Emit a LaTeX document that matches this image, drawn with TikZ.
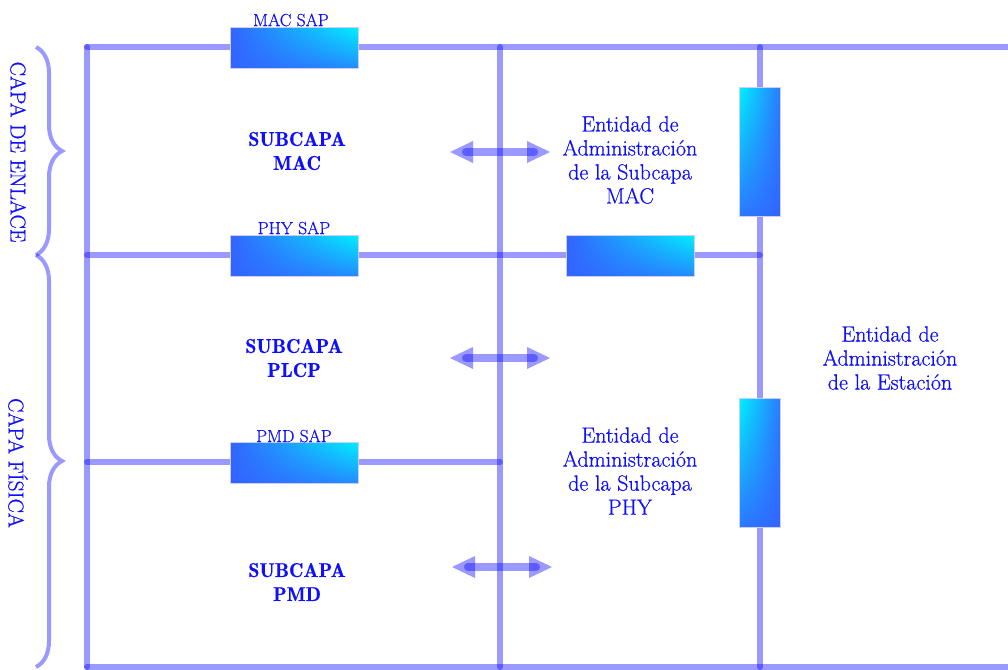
\documentclass[tikz,border=0pt]{standalone}
\usepackage{fontspec}
\newfontfamily\thk{Latin Modern Roman}[FakeBold=0.7]
\newfontfamily\dem{Latin Modern Roman Demi}[FakeBold=0.4]
\usetikzlibrary{calc,decorations.pathreplacing,shadings}
\definecolor{txt}{RGB}{15,15,255}
\definecolor{cy}{RGB}{0,240,255}
\definecolor{bl}{RGB}{50,100,255}
\definecolor{mid}{RGB}{35,140,255}
\tikzset{
  wire/.style={draw=blue,draw opacity=0.4,line width=6pt,line cap=round},
  shaft/.style={draw=blue,draw opacity=0.4,line width=8pt,line cap=round},
  headf/.style={fill=blue,fill opacity=0.4},
  hbox/.style={draw=white!80!blue,line width=0.6pt,minimum width=128pt,minimum height=41pt,inner sep=0pt,
     upper right=cy,upper left=bl,lower left=bl,lower right=mid},
  vbox/.style={draw=white!80!blue,line width=0.6pt,minimum width=41pt,minimum height=129pt,inner sep=0pt,
     upper left=cy,upper right=bl!85!cy,lower left=bl!85!cy,lower right=bl},
  lbl/.style={text=txt,align=center,font=\thk\fontsize{22}{24}\selectfont,inner sep=0pt},
  sub/.style={text=txt,align=center,font=\dem\fontsize{20}{24}\selectfont,inner sep=0pt},
  sap/.style={text=txt,font=\thk\fontsize{17.5}{18}\selectfont,inner sep=0pt},
  side/.style={text=txt,font=\thk\fontsize{21.5}{24}\selectfont,inner sep=0pt,rotate=-90},
  brc/.style={draw=blue,draw opacity=0.4,line width=4pt,decorate,decoration={brace,amplitude=26pt}},
}
\begin{document}
\begin{tikzpicture}[x=1pt,y=-1pt]
\useasboundingbox (0,0) rectangle (1008,669);
% coordinates
\coordinate (tl) at (87,47);
\coordinate (tr) at (1008,47);
\coordinate (tm) at (500,47);
\coordinate (tx) at (760,47);
\coordinate (bl0) at (87,667);
\coordinate (br) at (1008,667);
\coordinate (bm) at (500,667);
\coordinate (bx) at (760,667);
\coordinate (ml) at (87,255);
\coordinate (mx) at (760,255);
\coordinate (pl) at (87,462);
\coordinate (pm) at (500,462);
% wires
\draw[wire] (tl) -- (tr);
\draw[wire] (tl) -- (bl0);
\draw[wire] (bl0) -- (br);
\draw[wire] (tm) -- (bm);
\draw[wire] (tx) -- (bx);
\draw[wire] (ml) -- (mx);
\draw[wire] (pl) -- (pm);
% boxes
\node[hbox] (macsap) at (294,48) {};
\node[hbox] (physap) at (294,255.5) {};
\node[hbox] (pmdsap) at (294,462.5) {};
\node[hbox] (mgmt) at (630.5,255.5) {};
\node[vbox] (v1) at (760,151.5) {};
\node[vbox] (v2) at (760,462.5) {};
% SAP labels
\node[sap] (l1) at (291,20) {MAC SAP};
\node[sap] (l2) at (294,228) {PHY SAP};
\node[sap] (l3) at (294,436) {PMD SAP};
% sublayer texts
\node[sub] (s1) at (297,151) {SUBCAPA\\MAC};
\node[sub] (s2) at (294,358) {SUBCAPA\\PLCP};
\node[sub] (s3) at (297,582) {SUBCAPA\\PMD};
\node[lbl] (e1) at (630,160) {Entidad de\\Administración\\de la Subcapa\\MAC};
\node[lbl] (e2) at (630,471) {Entidad de\\Administración\\de la Subcapa\\PHY};
\node[lbl] (e3) at (890,358) {Entidad de\\Administración\\de la Estación};
% side labels
\node[side] (c1) at (18,152) {CAPA DE ENLACE};
\node[side] (c2) at (18,463) {CAPA FÍSICA};
\draw[brc] (36,47) -- (36,255);
\draw[brc] (36,255) -- (36,667);
% arrows
\foreach \n/\xa/\y in {a/450/152, b/450/358, c/452/567}{
  \coordinate (\n L) at (\xa,\y);
  \coordinate (\n R) at (\xa+100,\y);
  \draw[shaft] ($(\n L)+(16,0)$) -- ($(\n R)+(-16,0)$);
  \fill[headf] (\n L) -- ++(23,-11) -- ++(0,22) -- cycle;
  \fill[headf] (\n R) -- ++(-23,-11) -- ++(0,22) -- cycle;
}
\end{tikzpicture}
\end{document}
